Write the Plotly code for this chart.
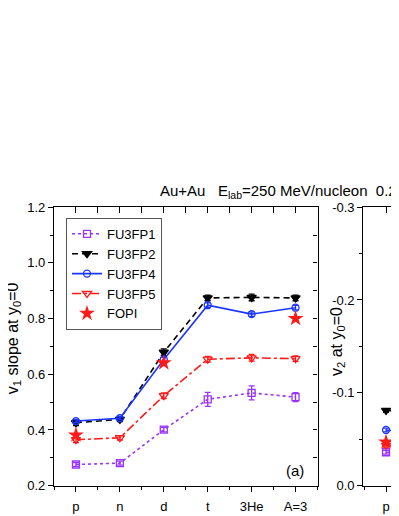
import plotly.graph_objects as go

categories = ['p', 'n', 'd', 't', '3He', 'A=3']

# left panel: v1 slope at y0=0
fu3fp1_v1 = [0.276, 0.281, 0.401, 0.510, 0.533, 0.518]
fu3fp1_v1_err = [0.007, 0.007, 0.008, 0.025, 0.025, 0.016]
fu3fp2_v1 = [0.426, 0.438, 0.679, 0.874, 0.876, 0.874]
fu3fp2_v1_err = [0.010, 0.008, 0.012, 0.010, 0.012, 0.010]
fu3fp4_v1 = [0.432, 0.442, 0.653, 0.848, 0.816, 0.839]
fu3fp4_v1_err = [0.006, 0.006, 0.008, 0.008, 0.008, 0.008]
fu3fp5_v1 = [0.365, 0.372, 0.523, 0.654, 0.659, 0.656]
fu3fp5_v1_err = [0.010, 0.008, 0.010, 0.010, 0.012, 0.010]
fopi_v1 = [0.382, None, 0.641, None, None, 0.800]

# right panel: v2 at y0=0 (only p and n visible)
v2_categories = ['p', 'n']
fu3fp1_v2 = [-0.036, -0.035]
fu3fp2_v2 = [-0.081, -0.079]
fu3fp4_v2 = [-0.060, -0.0555]
fu3fp5_v2 = [-0.0435, -0.038]
fopi_v2 = [-0.047, None]
v2_err = [0.002, 0.002]

y1_ticks = [0.2, 0.4, 0.6, 0.8, 1.0, 1.2]
y2_ticks = [0.0, -0.1, -0.2, -0.3]
y2_ticktext = ['0.0', '-0.1', '-0.2', '-0.3']

# page body has an 8px default margin; size the figure so it ends at the window edge
OFF = 8
W, H = 399 - OFF, 516 - OFF


def px(x):
    return (x - OFF) / W


def py(y):
    return 1 - (y - OFF) / H


xpos = list(range(len(categories)))
xpos2 = list(range(len(v2_categories)))
half = [i - 0.5 for i in range(len(categories) + 1)]

PURPLE = '#9933ff'
BLUE = '#1a35ff'
RED = '#ff1a1a'
BLACK = '#000000'

series = [
    ('FU3FP1', fu3fp1_v1, fu3fp1_v1_err, fu3fp1_v2, PURPLE, 'dot', 'square-open', 7),
    ('FU3FP2', fu3fp2_v1, fu3fp2_v1_err, fu3fp2_v2, BLACK, '6px,4px', 'triangle-down', 8),
    ('FU3FP4', fu3fp4_v1, fu3fp4_v1_err, fu3fp4_v2, BLUE, 'solid', 'circle-open', 7),
    ('FU3FP5', fu3fp5_v1, fu3fp5_v1_err, fu3fp5_v2, RED, 'dashdot', 'triangle-down-open', 8),
]

fig = go.Figure()
for name, v1, e1, v2, col, dash, sym, ms in series:
    fig.add_trace(go.Scatter(
        x=xpos, y=v1, name=name, mode='lines+markers',
        line=dict(color=col, width=1.6, dash=dash),
        marker=dict(symbol=sym, size=ms, color=col, line=dict(color=col, width=1.3)),
        error_y=dict(type='data', array=e1, color=col, thickness=1.3, width=3),
        xaxis='x', yaxis='y'))
for name, v1, e1, v2, col, dash, sym, ms in series:
    fig.add_trace(go.Scatter(
        x=xpos2, y=v2, name=name, mode='lines+markers', showlegend=False,
        line=dict(color=col, width=1.6, dash=dash),
        marker=dict(symbol=sym, size=ms, color=col, line=dict(color=col, width=1.3)),
        error_y=dict(type='data', array=v2_err, color=col, thickness=1.3, width=3),
        xaxis='x2', yaxis='y2'))

fig.add_trace(go.Scatter(
    x=xpos, y=fopi_v1, name='FOPI', mode='markers',
    marker=dict(symbol='star', size=12, color=RED, line=dict(width=0)),
    xaxis='x', yaxis='y'))
fig.add_trace(go.Scatter(
    x=xpos2, y=fopi_v2, name='FOPI', mode='markers', showlegend=False,
    marker=dict(symbol='star', size=12, color=RED, line=dict(width=0)),
    xaxis='x2', yaxis='y2'))

# empty traces to activate mirror axes
fig.add_trace(go.Scatter(x=[], y=[], xaxis='x3', yaxis='y3', showlegend=False, hoverinfo='skip'))
fig.add_trace(go.Scatter(x=[], y=[], xaxis='x4', yaxis='y2', showlegend=False, hoverinfo='skip'))

xd1 = [px(54), px(317.5)]
xd2 = [px(363.3), 1.0]
yd = [py(493), py(206)]
r2 = [-0.518, -0.518 + (399 - 363.3) / 43.9]

tickfont = dict(family='Liberation Sans, Arial', size=13, color='black')
common = dict(showgrid=False, zeroline=False, showline=True, linecolor='black',
              linewidth=1.3, tickcolor='black', tickwidth=1.2, tickfont=tickfont)

fig.update_layout(
    width=W, height=H, margin=dict(l=0, r=0, t=0, b=0),
    paper_bgcolor='white', plot_bgcolor='rgba(0,0,0,0)',
    font=dict(family='Liberation Sans, Arial', color='black'),
    showlegend=True,
    legend=dict(x=px(66), y=py(217), xanchor='left', yanchor='top',
                bgcolor='white', bordercolor='#555555', borderwidth=1,
                font=dict(size=13, family='Liberation Sans, Arial'),
                itemwidth=30, tracegroupgap=0),
    xaxis=dict(domain=xd1, range=[-0.5, 5.5], anchor='y', ticks='outside', ticklen=5,
               ticklabelstandoff=4,
               tickmode='array', tickvals=xpos, ticktext=categories,
               minor=dict(tickmode='array', tickvals=half, ticks='outside', ticklen=3,
                          tickcolor='black', tickwidth=1.2), **common),
    yaxis=dict(domain=yd, range=[0.2, 1.2], anchor='x', ticks='outside', ticklen=5,
               tickmode='array', tickvals=y1_ticks, tickformat='.1f',
               minor=dict(dtick=0.1, tick0=0.2, ticks='outside', ticklen=3,
                          tickcolor='black', tickwidth=1.2), **common),
    xaxis3=dict(overlaying='x', side='top', anchor='y', range=[-0.5, 5.5],
                ticks='inside', ticklen=6, tickmode='array',
                tickvals=[v / 2 for v in range(-1, 12)], showticklabels=False, **common),
    yaxis3=dict(overlaying='y', side='right', anchor='x', range=[0.2, 1.2],
                ticks='inside', ticklen=4, tickmode='linear', tick0=0.2, dtick=0.1,
                showticklabels=False, **common),
    xaxis2=dict(domain=xd2, range=r2, anchor='y2', ticks='outside', ticklen=5,
                ticklabelstandoff=4,
                tickmode='array', tickvals=xpos2, ticktext=v2_categories,
                minor=dict(tickmode='array', tickvals=half, ticks='outside', ticklen=3,
                           tickcolor='black', tickwidth=1.2), **common),
    yaxis2=dict(domain=yd, range=[0, -0.3], anchor='x2', ticks='outside', ticklen=5,
                tickmode='array', tickvals=y2_ticks, ticktext=y2_ticktext,
                minor=dict(dtick=0.05, tick0=0, ticks='outside', ticklen=3,
                           tickcolor='black', tickwidth=1.2), **common),
    xaxis4=dict(overlaying='x2', side='top', anchor='y2', range=r2,
                ticks='inside', ticklen=6, tickmode='array',
                tickvals=[v / 2 for v in range(-1, 4)], showticklabels=False, **common),
)

NB = '\u00a0'
title = ('Au+Au' + NB * 3 + 'E<sub>lab</sub>=250' + NB + 'MeV/nucleon' + NB * 2
         + '0.25&lt;u<sub>t0</sub>&lt;0.8')
fig.add_annotation(x=px(158), y=py(190), xref='paper', yref='paper',
                   xanchor='left', yanchor='middle', showarrow=False,
                   text=title, font=dict(size=15))
fig.add_annotation(x=px(13), y=py(341), xref='paper', yref='paper',
                   xanchor='center', yanchor='middle', showarrow=False, textangle=-90,
                   text='v<sub>1</sub> slope at y<sub>0</sub>=0', font=dict(size=16))
fig.add_annotation(x=px(337), y=py(345), xref='paper', yref='paper',
                   xanchor='center', yanchor='middle', showarrow=False, textangle=-90,
                   text='v<sub>2</sub> at y<sub>0</sub>=0', font=dict(size=16))
fig.add_annotation(x=px(295), y=py(477), xref='paper', yref='paper',
                   xanchor='center', yanchor='middle', showarrow=False,
                   text='(a)', font=dict(size=15))

fig.write_html('out.html')
